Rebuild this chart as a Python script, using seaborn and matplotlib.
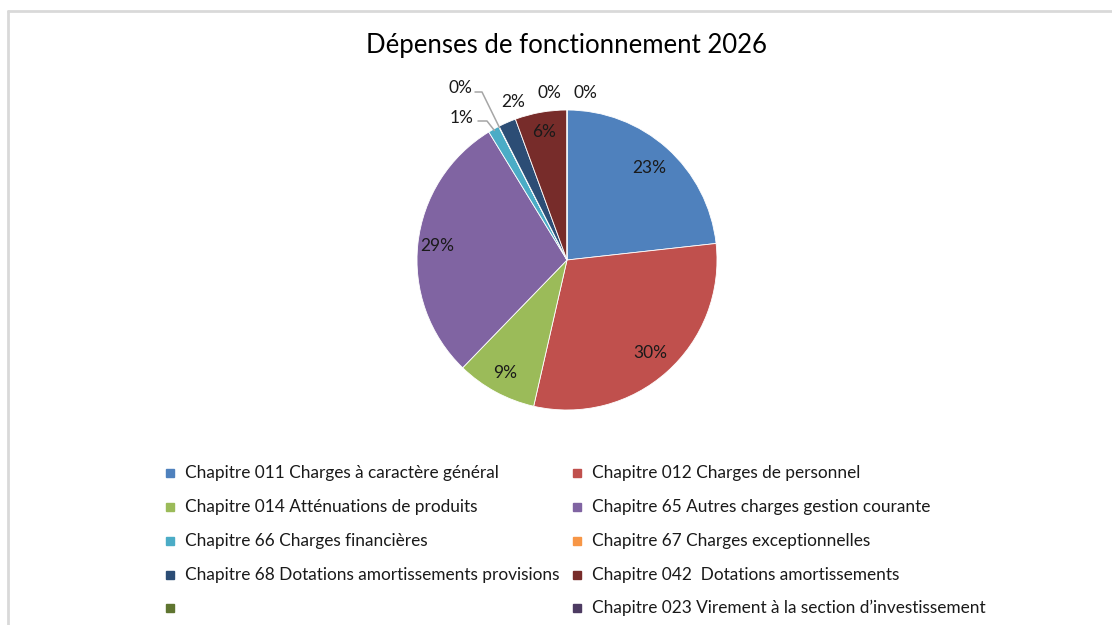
import numpy as np
import matplotlib
matplotlib.use("Agg")
import matplotlib.pyplot as plt
from matplotlib.lines import Line2D
import seaborn as sns

# Budget chapters (legend order) and share of operating expenses (%)
chapitres = [
    "Chapitre 011 Charges à caractère général",
    "Chapitre 012 Charges de personnel",
    "Chapitre 014 Atténuations de produits",
    "Chapitre 65 Autres charges gestion courante",
    "Chapitre 66 Charges financières",
    "Chapitre 67 Charges exceptionnelles",
    "Chapitre 68 Dotations amortissements provisions",
    "Chapitre 042  Dotations amortissements",
    "",
    "Chapitre 023 Virement à la section d’investissement",
]
parts = [23.3, 30.4, 8.7, 29.1, 1.2, 0.05, 1.9, 5.6, 0.0, 0.0]
couleurs = ["#4F81BD", "#C0504D", "#9BBB59", "#8064A2", "#4BACC6",
            "#F79646", "#2C4D75", "#772C2A", "#5F7530", "#4D3B62"]
titre = "Dépenses de fonctionnement 2026"

sns.set_theme(style="white")
plt.rcParams["font.family"] = ["Lato", "DejaVu Sans"]
palette = sns.color_palette(couleurs)

W, H = 1112, 625
fig = plt.figure(figsize=(W / 100, H / 100), dpi=100)

# Pie axes: centre at (567, 260) px, radius 150 px
cx, cy, R = 567, 260, 150
ax_l, ax_r, ax_t, ax_b = cx - 200, cx + 200, 60, 440
ax = fig.add_axes([ax_l / W, (H - ax_b) / H, (ax_r - ax_l) / W, (ax_b - ax_t) / H])

total = sum(parts)
wedges, _ = ax.pie(parts, colors=palette, startangle=90, counterclock=False,
                   radius=1.0, wedgeprops=dict(edgecolor="white", linewidth=0.6))
ax.set_xlim(-(cx - ax_l) / R, (ax_r - cx) / R)
ax.set_ylim(-(ax_b - cy) / R, (cy - ax_t) / R)
ax.set_aspect("equal")
ax.axis("off")

def px(x, y):
    """pixel position -> pie data coordinates"""
    return (x - cx) / R, (cy - y) / R

etiquettes = [f"{round(v / total * 100)}%" for v in parts]
fs_lab = 12.5

# labels inside the larger wedges
inside = {0: 0.82, 1: 0.83, 2: 0.86, 3: 0.87, 7: 0.87}
for i, r in inside.items():
    w = wedges[i]
    ang = np.deg2rad((w.theta1 + w.theta2) / 2)
    ax.text(r * np.cos(ang), r * np.sin(ang), etiquettes[i], ha="center", va="center",
            fontsize=fs_lab, color="#1a1a1a")

# labels outside the thin wedges
outside = {5: (460, 88), 4: (462, 118), 6: (513, 102), 8: (549, 93), 9: (585, 93)}
for i, (x, y) in outside.items():
    tx, ty = px(x, y)
    ax.text(tx, ty, etiquettes[i], ha="center", va="center", fontsize=fs_lab,
            color="#1a1a1a")

# leader lines for the two smallest wedges
leaders = {5: [(475, 92), (482, 92)], 4: [(478, 121), (487, 121)]}
for i, pts in leaders.items():
    w = wedges[i]
    ang = np.deg2rad((w.theta1 + w.theta2) / 2)
    end = (0.99 * np.cos(ang), 0.99 * np.sin(ang))
    xs = [px(*p)[0] for p in pts] + [end[0]]
    ys = [px(*p)[1] for p in pts] + [end[1]]
    ax.add_line(Line2D(xs, ys, color="#a6a6a6", lw=1.1))

fig.text(566 / W, 1 - 45 / H, titre, ha="center", va="center", fontsize=18.5,
         color="#000000")

# chart frame (left and top edges)
fig.add_artist(Line2D([8 / W, 8 / W], [0, 1 - 11 / H], transform=fig.transFigure,
                      color="#d9d9d9", lw=2))
fig.add_artist(Line2D([8 / W, 1], [1 - 11 / H, 1 - 11 / H], transform=fig.transFigure,
                      color="#d9d9d9", lw=2))

# legend: two columns, row-major order
rows_y = [473, 507, 541, 575, 608]
cols_x = [170, 577]
for k, (lab, col) in enumerate(zip(chapitres, palette)):
    c, r = k % 2, k // 2
    x, y = cols_x[c], rows_y[r]
    fig.patches.append(plt.Rectangle(((x - 4) / W, 1 - (y + 4) / H), 8 / W, 8 / H,
                                     transform=fig.transFigure, color=col, figure=fig))
    fig.text((x + 15) / W, 1 - y / H, lab, ha="left", va="center", fontsize=12.4,
             color="#1a1a1a")

fig.savefig("out.png", dpi=100, facecolor="white")
